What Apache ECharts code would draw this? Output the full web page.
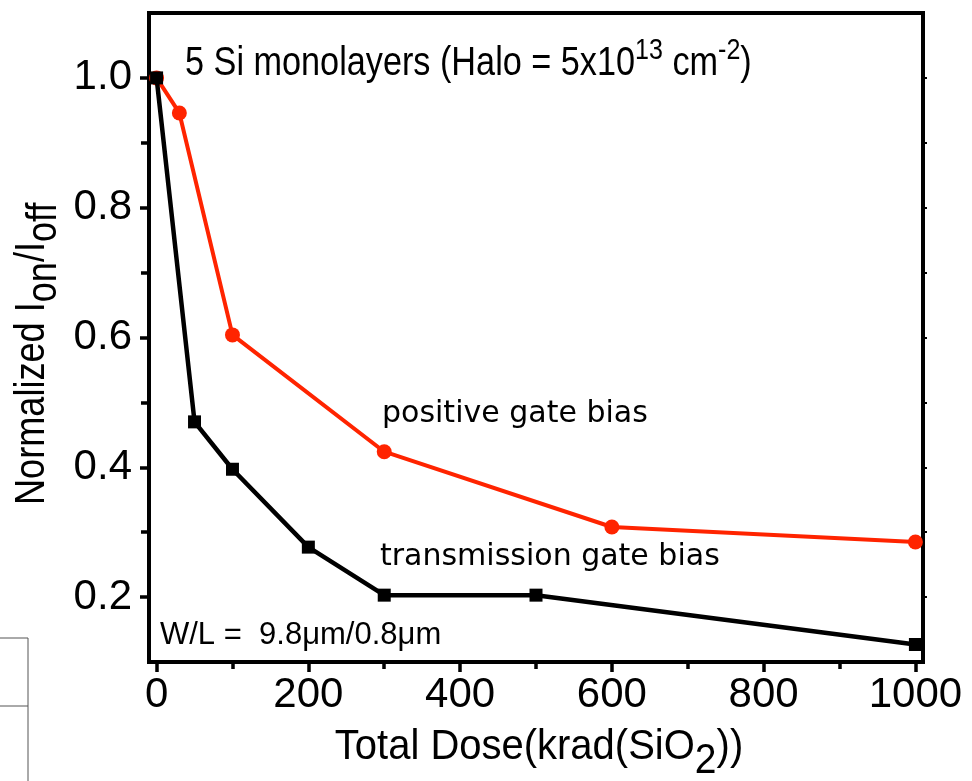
<!DOCTYPE html>
<html><head><meta charset="utf-8">
<script src="https://cdn.jsdelivr.net/npm/echarts@6/dist/echarts.min.js"></script>
<style>html,body{margin:0;padding:0;background:#fff;}#c{width:972px;height:781px;}</style>
</head><body><div id="c"></div>
<script>
// ---- data ----
const doseTicks = [0, 200, 400, 600, 800, 1000];
const doseMinorTicks = [100, 300, 500, 700, 900];
const ratioTicks = [0.2, 0.4, 0.6, 0.8, 1.0];
const ratioMinorTicks = [0.3, 0.5, 0.7, 0.9];
const positiveDose = [0, 30, 100, 300, 600, 1000];
const positiveRatio = [1.0, 0.946, 0.604, 0.424, 0.308, 0.285];
const transDose = [0, 50, 100, 200, 300, 500, 1000];
const transRatio = [1.0, 0.470, 0.397, 0.277, 0.203, 0.203, 0.127];
const seriesNames = ['positive gate bias', 'transmission gate bias'];

const REG = "'Liberation Sans', sans-serif";
const DJV = "'DejaVu Sans', sans-serif";
const RED = '#ff2400';

const chart = echarts.init(document.getElementById('c'), null, {renderer: 'canvas'});
const axisCommon = {type: 'value', splitLine: {show: false}};
const option = {
  backgroundColor: '#fff',
  animation: false,
  grid: {left: 149, right: 49, top: 13, bottom: 119, show: true, borderColor: '#000', borderWidth: 4,
    containLabel: false, outerBoundsMode: 'none'},
  xAxis: [
    Object.assign({}, axisCommon, {
      min: -10, max: 1010, position: 'bottom',
      axisLine: {show: true, onZero: false, lineStyle: {color: '#000', width: 4}},
      axisTick: {show: true, customValues: doseTicks, length: 10, lineStyle: {color: '#000', width: 3.5}},
      axisLabel: {customValues: doseTicks, fontSize: 42, fontFamily: REG, color: '#000', margin: 12,
        formatter: v => String(v)}
    }),
    Object.assign({}, axisCommon, {
      min: -10, max: 1010, position: 'bottom',
      axisLine: {show: false, onZero: false},
      axisTick: {show: true, customValues: doseMinorTicks, length: 7, lineStyle: {color: '#000', width: 3.5}},
      axisLabel: {show: false}
    })
  ],
  yAxis: [
    Object.assign({}, axisCommon, {
      min: 0.1, max: 1.1, position: 'left',
      axisLine: {show: true, onZero: false, lineStyle: {color: '#000', width: 4}},
      axisTick: {show: true, customValues: ratioTicks, length: 9, lineStyle: {color: '#000', width: 3.5}},
      axisLabel: {customValues: ratioTicks, fontSize: 42, fontFamily: REG, color: '#000', margin: 17,
        formatter: v => v.toFixed(1)}
    }),
    Object.assign({}, axisCommon, {
      min: 0.1, max: 1.1, position: 'left',
      axisLine: {show: false, onZero: false},
      axisTick: {show: true, customValues: ratioMinorTicks, length: 8, lineStyle: {color: '#000', width: 3.5}},
      axisLabel: {show: false}
    }),
    Object.assign({}, axisCommon, {
      min: 0.1, max: 1.1, position: 'right',
      axisLine: {show: false, onZero: false},
      axisTick: {show: true, customValues: ratioTicks.concat(ratioMinorTicks), length: 4, lineStyle: {color: '#000', width: 2}},
      axisLabel: {show: false}
    })
  ],
  series: [
    {
      name: seriesNames[0], type: 'line', xAxisIndex: 0, yAxisIndex: 0,
      data: positiveDose.map((d, i) => [d, positiveRatio[i]]),
      symbol: 'circle', symbolSize: 15,
      lineStyle: {color: RED, width: 4}, itemStyle: {color: RED}, z: 3
    },
    {
      name: seriesNames[1], type: 'line', xAxisIndex: 0, yAxisIndex: 0,
      data: transDose.map((d, i) => [d, transRatio[i]]),
      symbol: 'rect', symbolSize: 13,
      lineStyle: {color: '#000', width: 4.5}, itemStyle: {color: '#000'}, z: 4
    }
  ],
  graphic: [
    {type: 'text', x: 185, y: 64, scaleX: 0.835, z: 10, style: {
      text: '{a|5 Si monolayers (Halo = 5x10}{s|13}{a| cm}{s|-2}{a|)}',
      verticalAlign: 'middle', align: 'left',
      rich: {
        a: {fontSize: 41, fontFamily: REG, fill: '#000', lineHeight: 56},
        s: {fontSize: 30, fontFamily: REG, fill: '#000', lineHeight: 28, verticalAlign: 'top'}
      }}},
    {type: 'text', x: 382, y: 414, z: 10, style: {text: seriesNames[0], font: '30px ' + DJV, fill: '#000', verticalAlign: 'middle'}},
    {type: 'text', x: 380, y: 557, z: 10, style: {text: seriesNames[1], font: '30px ' + DJV, fill: '#000', verticalAlign: 'middle'}},
    {type: 'text', x: 160, y: 635, z: 10, style: {text: 'W/L =  9.8\u03bcm/0.8\u03bcm', font: '31px ' + REG, fill: '#000', verticalAlign: 'middle'}},
    {type: 'text', x: 539, y: 747, scaleX: 0.93, z: 10, style: {
      text: '{a|Total Dose(krad(SiO}{s|2}{a|))}',
      verticalAlign: 'middle', align: 'center',
      rich: {
        a: {fontSize: 43, fontFamily: REG, fill: '#000', lineHeight: 70},
        s: {fontSize: 42, fontFamily: REG, fill: '#000', lineHeight: 42, verticalAlign: 'bottom'}
      }}},
    {type: 'text', x: 32, y: 505, rotation: Math.PI / 2, scaleX: 0.86, z: 10, style: {
      text: '{a|Normalized I}{s|on}{a|/I}{s|off}',
      verticalAlign: 'middle', align: 'left',
      rich: {
        a: {fontSize: 42, fontFamily: REG, fill: '#000', lineHeight: 66},
        s: {fontSize: 42, fontFamily: REG, fill: '#000', lineHeight: 36, verticalAlign: 'bottom'}
      }}},
    {type: 'line', z: 1, shape: {x1: 28, y1: 638, x2: 28, y2: 781}, style: {stroke: '#555', lineWidth: 1}},
    {type: 'line', z: 1, shape: {x1: 0, y1: 638, x2: 28, y2: 638}, style: {stroke: '#555', lineWidth: 1}},
    {type: 'line', z: 1, shape: {x1: 0, y1: 706, x2: 28, y2: 706}, style: {stroke: '#555', lineWidth: 1}}
  ]
};
chart.setOption(option);
</script>
</body></html>
